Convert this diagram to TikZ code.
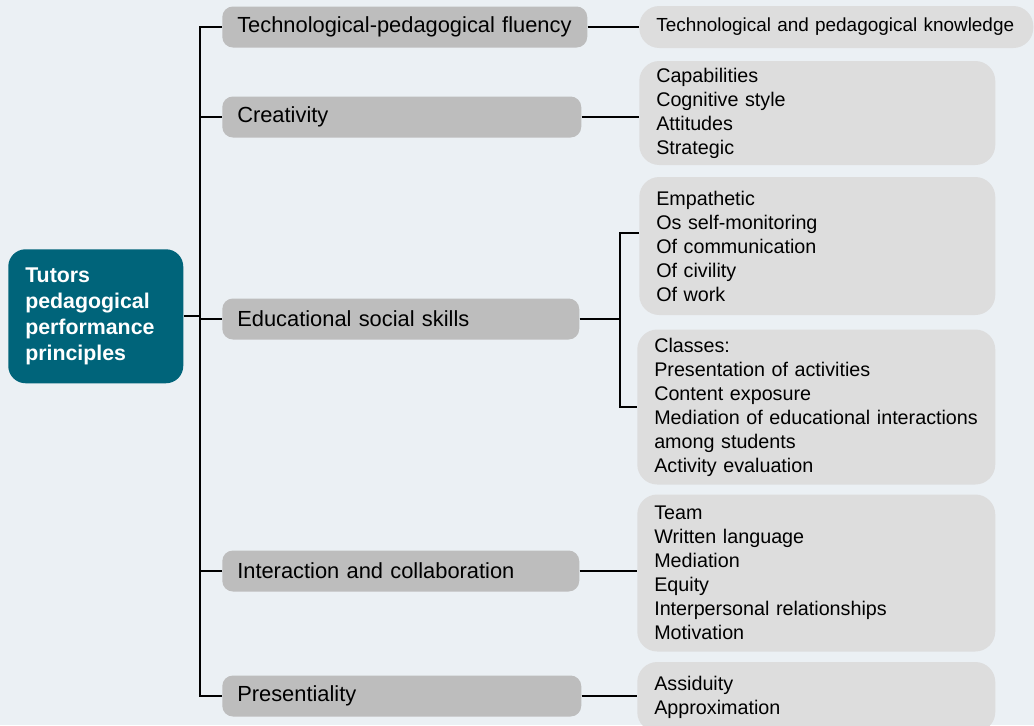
\documentclass[tikz,border=0pt]{standalone}
\usepackage{fontspec}
\setmainfont{Liberation Sans}
\usepackage{tikz}
\hyphenpenalty=10000

\definecolor{bgcol}{RGB}{235,240,244}
\definecolor{rootcol}{RGB}{0,100,122}
\definecolor{midcol}{RGB}{189,189,189}
\definecolor{leafcol}{RGB}{221,221,221}

\begin{document}
\begin{tikzpicture}[x=0.75pt,y=-0.75pt,
    rootbox/.style={fill=rootcol,rounded corners=13pt,anchor=north west,
        inner xsep=12.75pt,inner ysep=0pt,text width=105.75pt,minimum height=100.5pt,
        align=left,text=white,font=\fontsize{16}{19.5}\selectfont\bfseries},
    midbox/.style={fill=midcol,rounded corners=8pt,anchor=west,
        inner xsep=11.25pt,inner ysep=0pt,minimum height=30.75pt,
        align=left,font=\fontsize{16.4}{19.5}\selectfont},
    leafbox/.style={fill=leafcol,rounded corners=15pt,anchor=west,
        inner xsep=12.75pt,inner ysep=0pt,text width=241.5pt,
        align=left,font=\fontsize{14.8}{18}\selectfont},
    link/.style={line width=1.8pt,black}]
    \fill[bgcol] (0,0) rectangle (1034,725);
    \useasboundingbox (0,0) rectangle (1034,725);

    \node[rootbox] (root) at (8,249) {Tutors\\pedagogical\\performance\\principles};

    \node[midbox,text width=251.25pt] (fluency) at (222,27) {Technological-pedagogical fluency};
    \node[midbox,text width=246.75pt] (creativity) at (222,117) {Creativity};
    \node[midbox,text width=245.25pt] (social) at (222,319) {Educational social skills};
    \node[midbox,text width=245.25pt] (interaction) at (222,571) {Interaction and collaboration};
    \node[midbox,text width=246.75pt] (presence) at (222,696) {Presentiality};

    \node[leafbox,text width=270pt,minimum height=31.5pt,font=\fontsize{14.2}{18}\selectfont] (knowledge) at (639,27)
        {Technological and pedagogical knowledge};
    \node[leafbox,minimum height=78pt] (capab) at (639,113)
        {Capabilities\\Cognitive style\\Attitudes\\Strategic};
    \node[leafbox,minimum height=103.5pt] (empath) at (639,246)
        {Empathetic\\Os self-monitoring\\Of communication\\Of civility\\Of work};
    \node[leafbox,text width=243pt,minimum height=116.25pt] (classes) at (637,407)
        {Classes:\\Presentation of activities\\Content exposure\\Mediation of educational interactions\\among students\\Activity evaluation};
    \node[leafbox,text width=243pt,minimum height=117.75pt] (team) at (637,573)
        {Team\\Written language\\Mediation\\Equity\\Interpersonal relationships\\Motivation};
    \node[leafbox,text width=243pt,minimum height=52.5pt] (assid) at (637,697)
        {Assiduity\\Approximation};

    \coordinate (trunk) at (200,0);
    \coordinate (split) at (620,0);

    \draw[link] (root.east) -- (root.east -| trunk);
    \draw[link] (fluency.west) -- (fluency.west -| trunk) -- (presence.west -| trunk) -- (presence.west);
    \draw[link] (creativity.west) -- (creativity.west -| trunk);
    \draw[link] (social.west) -- (social.west -| trunk);
    \draw[link] (interaction.west) -- (interaction.west -| trunk);

    \draw[link] (fluency.east) -- (knowledge.west);
    \draw[link] (creativity.east) -- (creativity.east -| capab.west);
    \draw[link] (social.east) -- (social.east -| split);
    \draw[link] ([yshift=9.75pt]empath.west) -| (split |- classes.west) -- (classes.west);
    \draw[link] (interaction.east) -- (interaction.east -| team.west);
    \draw[link] (presence.east) -- (presence.east -| assid.west);
\end{tikzpicture}
\end{document}
